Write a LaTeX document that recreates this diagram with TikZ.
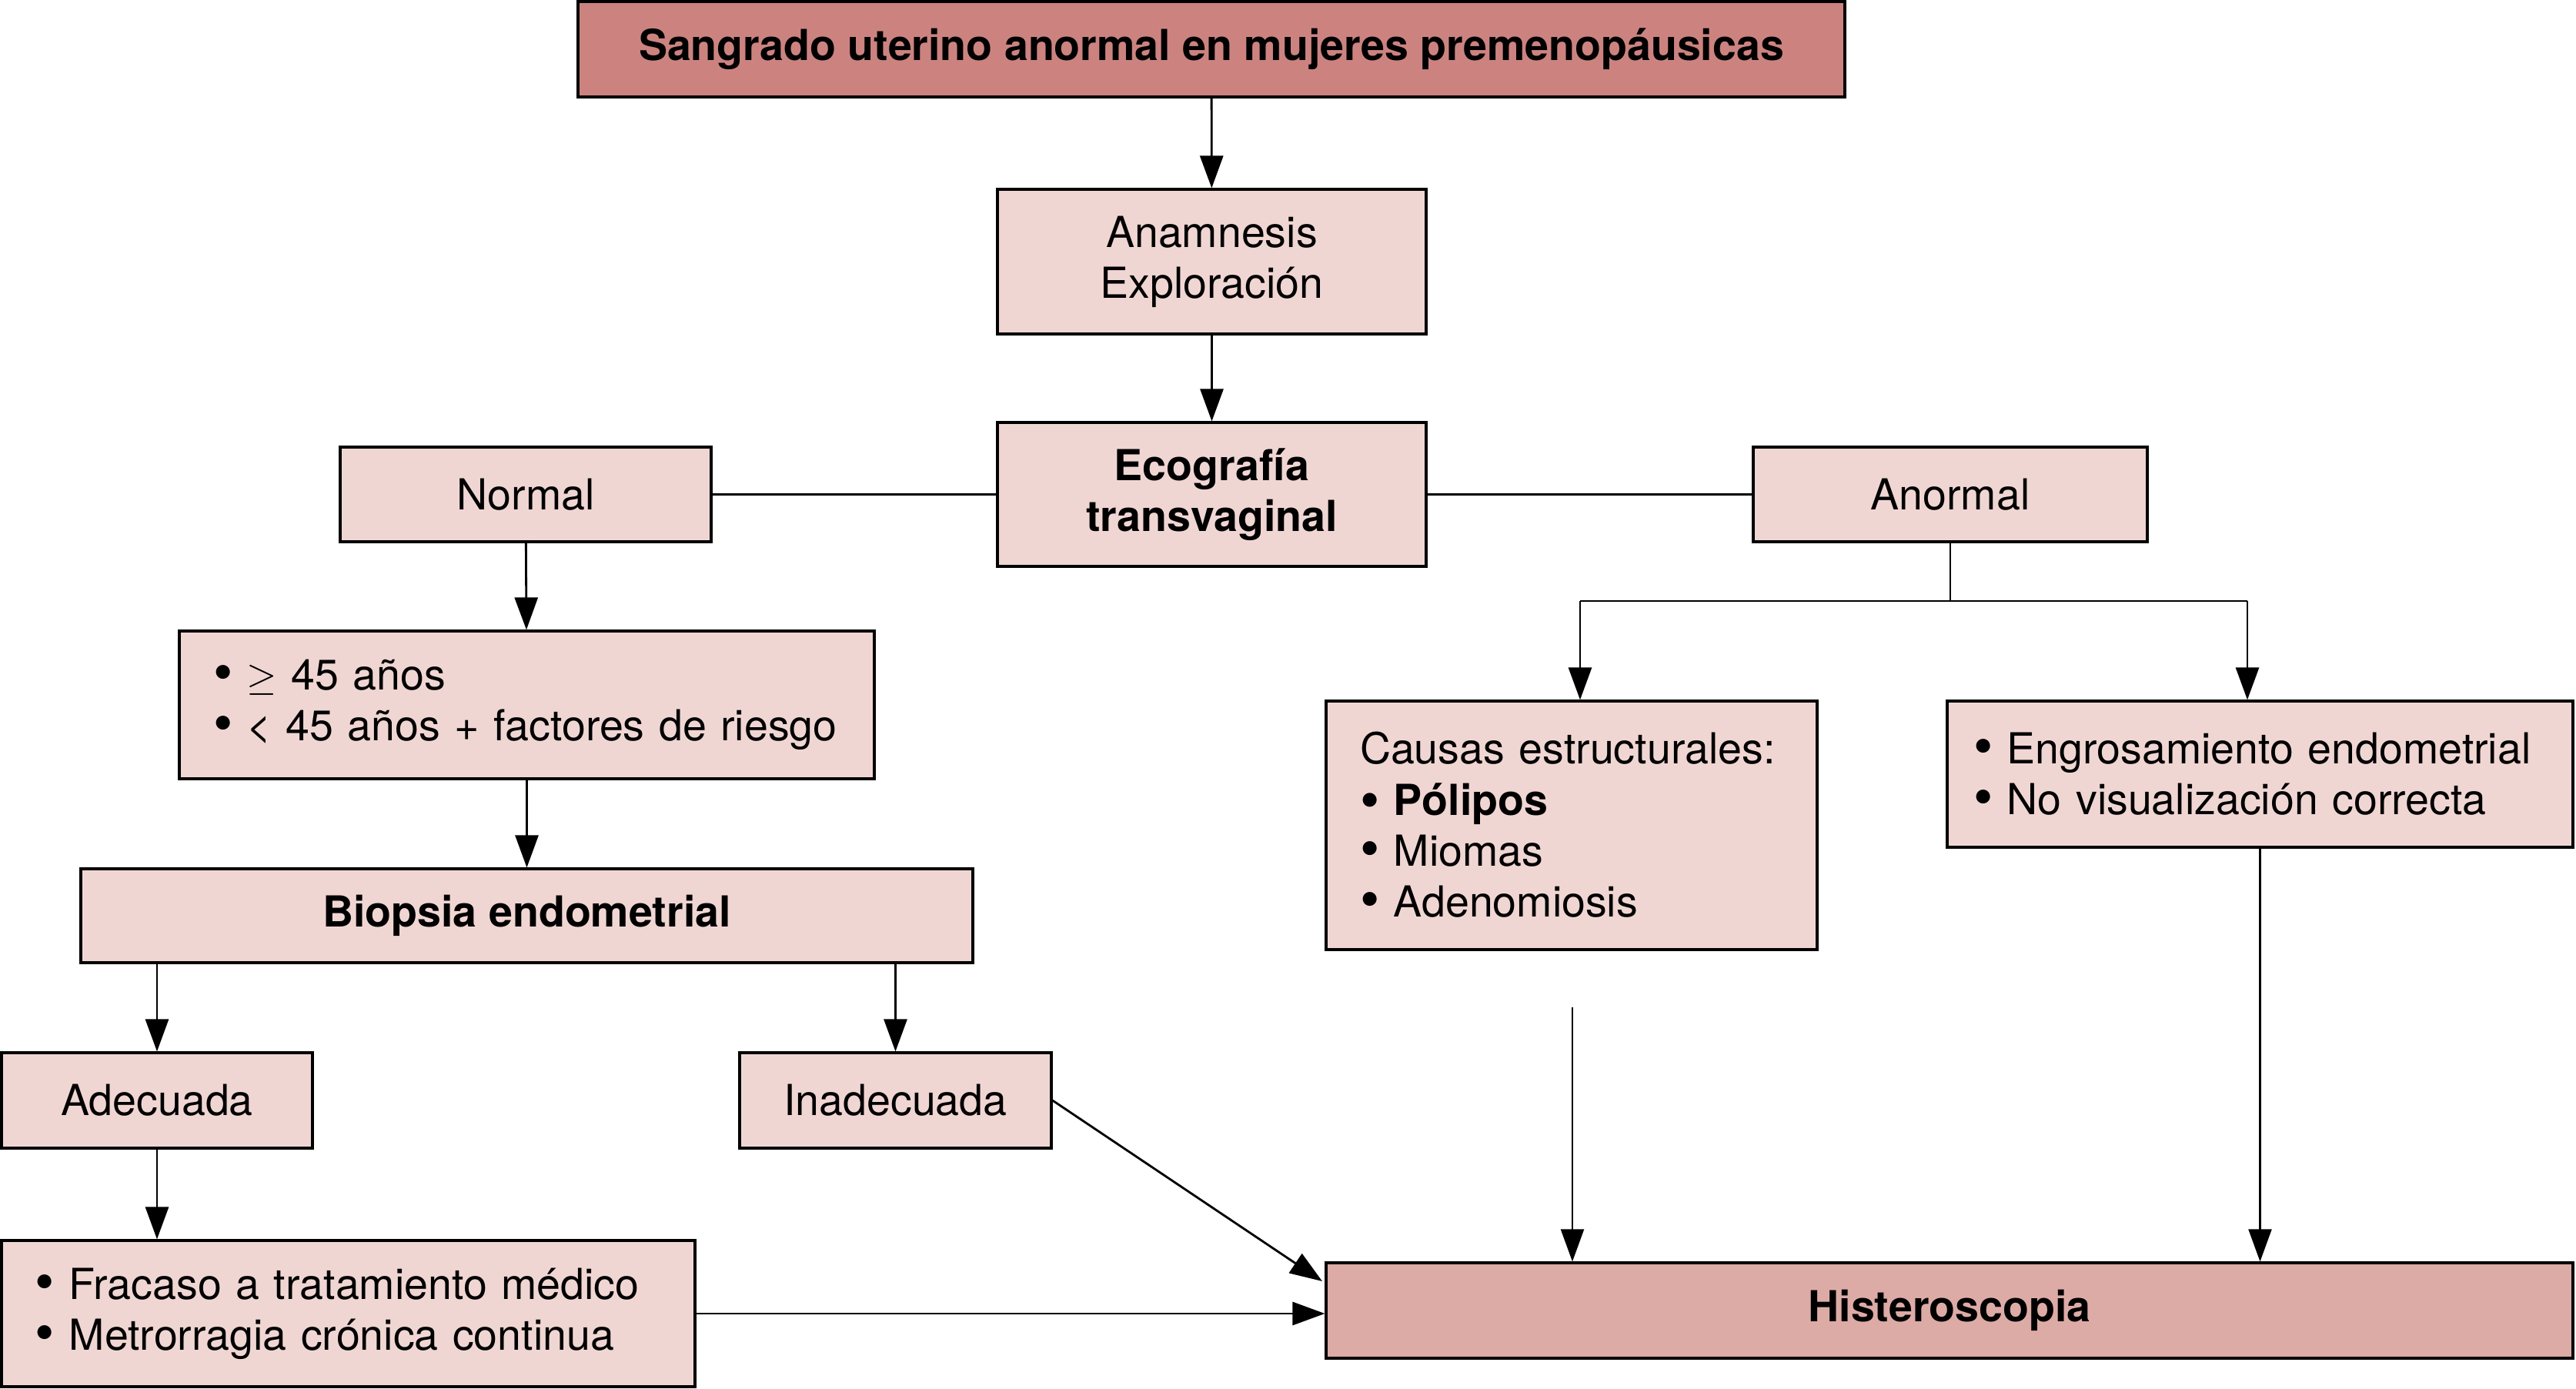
\documentclass[tikz,border=0pt]{standalone}
\usepackage{fontspec}
\setmainfont{TeX Gyre Heros}
\usetikzlibrary{arrows.meta,positioning}
\definecolor{rosedark}{RGB}{204,131,128}
\definecolor{rosemid}{RGB}{221,171,166}
\definecolor{roselight}{RGB}{240,214,211}
\newcommand{\bul}{\raisebox{-0.08ex}{\scalebox{1.3}{\textbullet}}\ }
\tikzset{
    box/.style={draw,rectangle,line width=0.9pt,fill=roselight,inner sep=0pt,
        align=center,font=\fontsize{15.8}{18.8}\selectfont},
    boldbox/.style={box,font=\fontsize{15.8}{18.8}\selectfont\bfseries},
    listbox/.style={box,align=left,inner xsep=0.44cm},
    arr/.style={-{Triangle[length=0.42cm,width=0.3cm]},line width=0.8pt},
    thinarr/.style={arr,line width=0.6pt},
    link/.style={line width=0.8pt}
}
\begin{document}
\begin{tikzpicture}
                \useasboundingbox (0,0) rectangle (33.47,-18.05);
                % top of the chart
                \node[boldbox,fill=rosedark,minimum width=16.46cm,minimum height=1.24cm] (top) at (15.74,-0.64) {Sangrado uterino anormal en mujeres premenopáusicas};
                \node[box,minimum width=5.57cm,minimum height=1.88cm] (anam) at (15.745,-3.40) {Anamnesis\\Exploración};
                \node[boldbox,minimum width=5.57cm,minimum height=1.87cm] (eco) at (15.745,-6.425) {Ecografía\\transvaginal};
                \node[box,minimum width=4.82cm,minimum height=1.23cm] (normal) at (6.83,-6.425) {Normal};
                \node[box,minimum width=5.12cm,minimum height=1.23cm] (anormal) at (25.34,-6.425) {Anormal};

                % left branch
                \node[listbox,text width=8.15cm,minimum height=1.92cm] (age) at (6.845,-9.16) {\bul $\geq$ 45 años\\\bul < 45 años + factores de riesgo};
                \node[boldbox,minimum width=11.59cm,minimum height=1.22cm] (biopsia) at (6.845,-11.90) {Biopsia endometrial};
                \node[box,minimum width=4.04cm,minimum height=1.24cm] (adec) at (2.04,-14.30) {Adecuada};
                \node[box,minimum width=4.05cm,minimum height=1.24cm] (inadec) at (11.635,-14.30) {Inadecuada};
                \node[listbox,text width=8.13cm,minimum height=1.90cm] (fracaso) at (4.525,-17.07) {\bul Fracaso a tratamiento médico\\\bul Metrorragia crónica continua};

                % right branch
                \node[listbox,text width=5.50cm,minimum height=3.23cm] (causas) at (20.42,-10.725) {Causas estructurales:\\\textbf{\bul Pólipos}\\\bul Miomas\\\bul Adenomiosis};
                \node[listbox,text width=7.45cm,inner xsep=0.34cm,minimum height=1.90cm] (engros) at (29.365,-10.06) {\mbox{\bul Engrosamiento endometrial}\\\mbox{\bul No visualización correcta}};
                \node[boldbox,fill=rosemid,minimum width=16.20cm,minimum height=1.24cm] (hist) at (25.33,-17.03) {Histeroscopia};

                \coordinate (forkl) at (20.53,-7.81);
                \coordinate (forkr) at (29.20,-7.81);
                \coordinate (cstart) at (20.43,-13.09);
                \coordinate (hin) at (17.18,-16.65);

                \foreach \a/\b in {top/anam,anam/eco,normal/age,age/biopsia}
                {
                    \draw[arr] (\a) -- (\b);
                }
                \draw[link] (eco) -- (normal);
                \draw[link] (eco) -- (anormal);
                \draw[arr] (adec.north |- biopsia.south) -- (adec.north);
                \draw[arr] (inadec.north |- biopsia.south) -- (inadec.north);
                \draw[arr] (adec.south) -- (adec.south |- fracaso.north);
                \draw[link] (anormal.south) -- (anormal.south |- forkl);
                \draw[link] (forkl) -- (forkr);
                \draw[arr] (forkl) -- (forkl |- causas.north);
                \draw[arr] (forkr) -- (forkr |- engros.north);
                \draw[thinarr] (cstart) -- (cstart |- hist.north);
                \draw[thinarr] (engros.south) -- (engros.south |- hist.north);
                \draw[link,-{Triangle[length=0.42cm,width=0.3cm]}] (inadec.east) -- (hin);
                \draw[arr] (fracaso.east) -- (fracaso.east -| hist.west);
\end{tikzpicture}
\end{document}
